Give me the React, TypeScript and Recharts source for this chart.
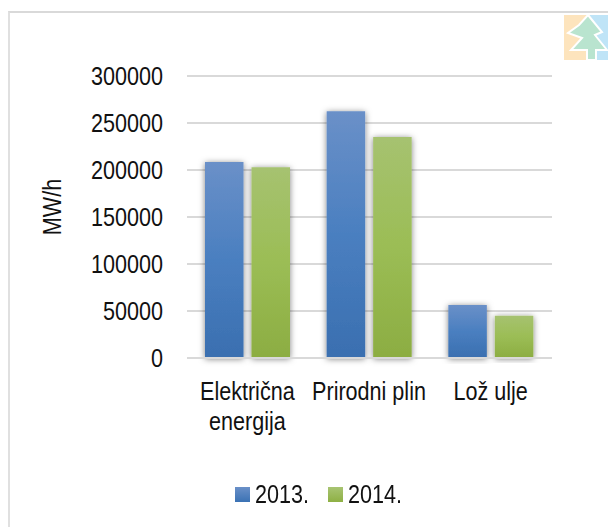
import React from "react";
import { BarChart, Bar, XAxis, YAxis, CartesianGrid, Legend, Label } from "recharts";

const categories = ["Električna energija", "Prirodni plin", "Lož ulje"];
const values2013 = [208500, 262500, 56500];
const values2014 = [203000, 235000, 45000];
const yTicks = [0, 50000, 100000, 150000, 200000, 250000, 300000];
const seriesNames = ["2013.", "2014."];
const wrappedLabels: Record<string, string[]> = { "Električna energija": ["Električna", "energija"] };
const axisTitle = "MW/h";

const data = categories.map((name, i) => ({ name, a: values2013[i], b: values2014[i] }));
const FONT = "'Liberation Sans', Arial, sans-serif";
const SIZE = 26;
const SQUEEZE = 0.83;

const textProps = { fontSize: SIZE, fontFamily: FONT, fill: "#111" };

const CategoryTick = (props: any) => {
  const lines = wrappedLabels[props.payload.value] ?? [props.payload.value];
  return (
    <g transform={`translate(${props.x - 0.5},400) scale(${SQUEEZE},1)`}>
      {lines.map((l, i) => (
        <text key={l} x={0} y={i * 30} textAnchor="middle" {...textProps}>{l}</text>
      ))}
    </g>
  );
};

const ValueTick = (props: any) => (
  <g transform={`translate(163,${props.y + 9}) scale(${SQUEEZE},1)`}>
    <text x={0} y={0} textAnchor="end" {...textProps}>{props.payload.value}</text>
  </g>
);

const AxisTitle = () => (
  <g transform={`translate(61,207) rotate(-90) scale(${SQUEEZE},1)`}>
    <text x={0} y={0} textAnchor="middle" {...textProps}>{axisTitle}</text>
  </g>
);

const LegendContent = () => (
  <div style={{ position: "relative", width: 608, height: 30, fontFamily: FONT, fontSize: SIZE, color: "#111" }}>
    {seriesNames.map((n, i) => (
      <React.Fragment key={n}>
        <div style={{ position: "absolute", left: 235 + i * 93, top: 5, width: 15, height: 15, background: i === 0 ? "linear-gradient(#6a90c8,#3b72b4)" : "linear-gradient(#a8c472,#8eb044)" }} />
        <div style={{ position: "absolute", left: 255 + i * 93, top: -3, lineHeight: "30px", transform: `scaleX(${SQUEEZE})`, transformOrigin: "left" }}>{n}</div>
      </React.Fragment>
    ))}
  </div>
);

export default function App() {
  return (
    <div style={{ position: "absolute", left: 0, top: 0, width: 608, height: 527, overflow: "hidden", background: "#fff" }}>
      <div style={{ position: "absolute", left: 8, top: 11, width: 600, height: 516, borderLeft: "2px solid #e0e0e0", borderTop: "2px solid #d9d9d9", boxSizing: "border-box" }} />
      <svg width={608} height={70} style={{ position: "absolute", left: 0, top: 0 }}>
        <rect x={564} y={15} width={26} height={45} fill="#fde4bd" />
        <rect x={590} y={15} width={18} height={45} fill="#bfe4f7" />
        <path d="M588 15 L602 32 L595 35 L607 50 L596 50 L596 60 L587 60 L587 50 L571 50 L582 38 L568 33 L579 25 Z" fill="#b9e4cf" stroke="#fff" strokeWidth={2} />
      </svg>
      <BarChart
        width={608}
        height={527}
        data={data}
        barSize={38.5}
        barGap={8}
        margin={{ top: 76, right: 56, bottom: 79, left: 100 }}
        style={{ position: "absolute", left: 0, top: 0 }}
      >
        <defs>
          <linearGradient id="blueGrad" x1="0" y1="0" x2="0" y2="1">
            <stop offset="0" stopColor="#6a90c8" />
            <stop offset="0.5" stopColor="#4a7fc0" />
            <stop offset="1" stopColor="#3a6fb0" />
          </linearGradient>
          <linearGradient id="greenGrad" x1="0" y1="0" x2="0" y2="1">
            <stop offset="0" stopColor="#a6c270" />
            <stop offset="0.5" stopColor="#9bbd55" />
            <stop offset="1" stopColor="#8cad42" />
          </linearGradient>
          <filter id="barShadow" x="-30%" y="-10%" width="160%" height="120%">
            <feDropShadow dx={0} dy={1} stdDeviation={3} floodColor="#000" floodOpacity={0.5} />
          </filter>
        </defs>
        <CartesianGrid horizontal vertical={false} stroke="#d9d9d9" strokeWidth={2} />
        <XAxis
          dataKey="name"
          height={60}
          axisLine={{ stroke: "#d9d9d9", strokeWidth: 2 }}
          tickLine={false}
          interval={0}
          tick={CategoryTick}
        />
        <YAxis
          width={87}
          domain={[0, 300000]}
          ticks={yTicks}
          axisLine={false}
          tickLine={false}
          interval={0}
          tick={ValueTick}
        >
          <Label content={AxisTitle} />
        </YAxis>
        <Legend content={LegendContent} wrapperStyle={{ position: "absolute", left: 0, top: 482, width: 608, height: 30 }} />
        <Bar dataKey="a" name={seriesNames[0]} fill="url(#blueGrad)" filter="url(#barShadow)" isAnimationActive={false} />
        <Bar dataKey="b" name={seriesNames[1]} fill="url(#greenGrad)" filter="url(#barShadow)" isAnimationActive={false} />
      </BarChart>
    </div>
  );
}
